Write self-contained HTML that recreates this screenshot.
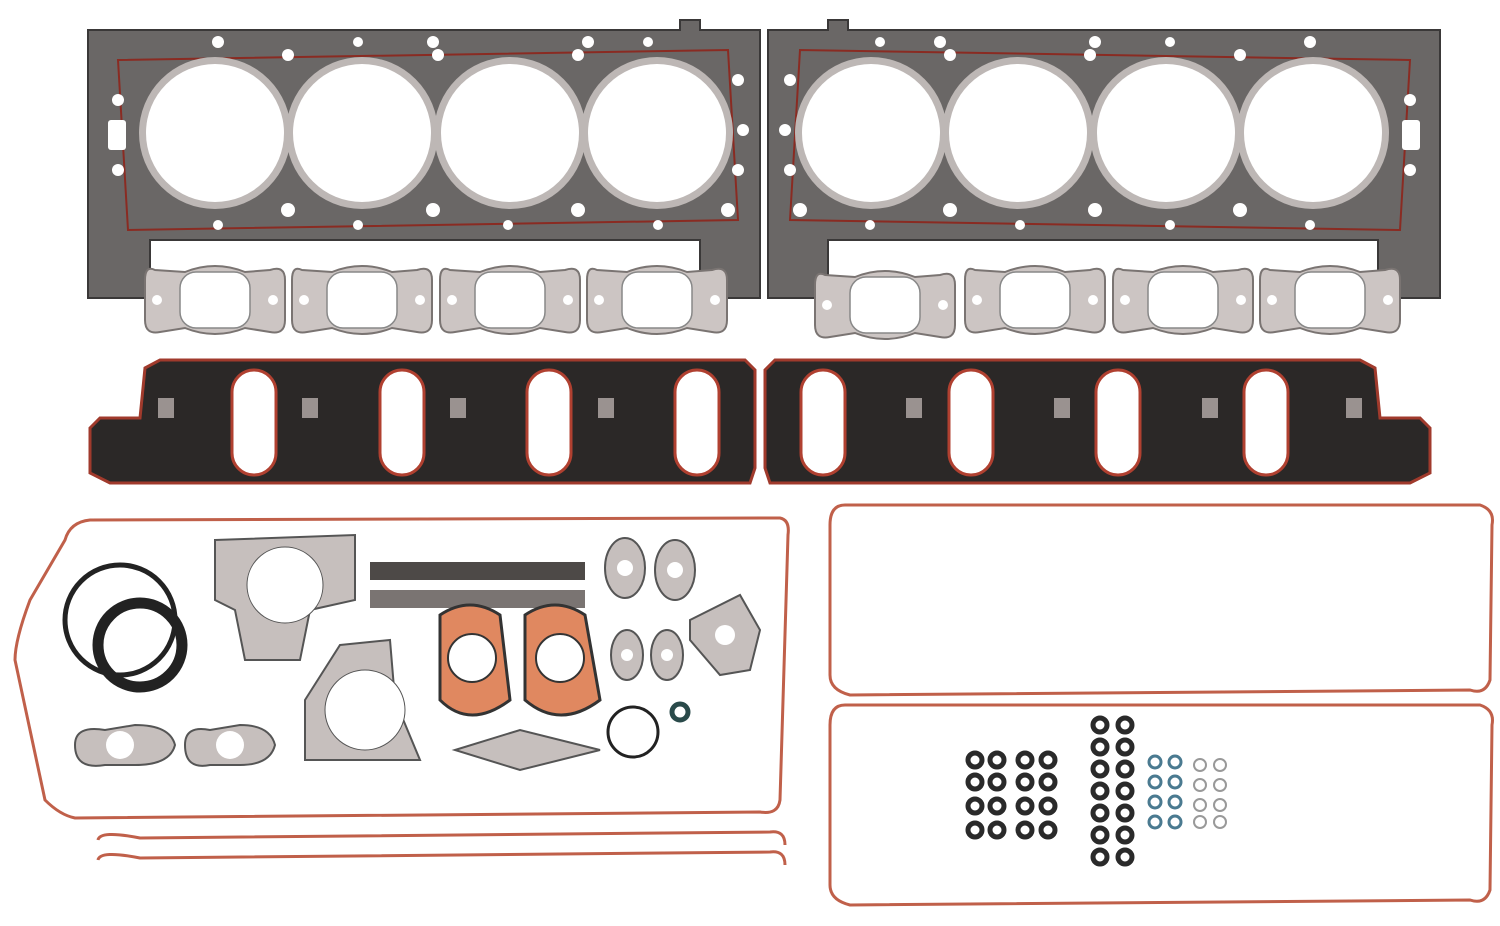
<!DOCTYPE html>
<html><head><meta charset="utf-8"><style>
html,body{margin:0;padding:0;background:#fff;width:1500px;height:926px;overflow:hidden}
</style></head><body>
<svg width="1500" height="926" viewBox="0 0 1500 926" xmlns="http://www.w3.org/2000/svg">
<defs>
<g id="head">
  <path d="M0,10 L592,10 L592,0 L612,0 L612,10 L672,10 L672,278 L612,278 L612,220 L62,220 L62,278 L0,278 Z" fill="#6a6766" stroke="#3a3838" stroke-width="2"/>
  <path d="M30,40 L640,30 L650,200 L40,210 Z" fill="none" stroke="#8a2b22" stroke-width="2"/>
  <g fill="#bdb7b5"><circle cx="127" cy="113" r="76"/><circle cx="274" cy="113" r="76"/><circle cx="422" cy="113" r="76"/><circle cx="569" cy="113" r="76"/></g>
  <g fill="#fff"><circle cx="127" cy="113" r="69"/><circle cx="274" cy="113" r="69"/><circle cx="422" cy="113" r="69"/><circle cx="569" cy="113" r="69"/></g>
  <g fill="#fff">
    <circle cx="130" cy="22" r="6"/><circle cx="270" cy="22" r="5"/><circle cx="345" cy="22" r="6"/><circle cx="500" cy="22" r="6"/><circle cx="560" cy="22" r="5"/>
    <circle cx="200" cy="35" r="6"/><circle cx="350" cy="35" r="6"/><circle cx="490" cy="35" r="6"/>
    <circle cx="200" cy="190" r="7"/><circle cx="345" cy="190" r="7"/><circle cx="490" cy="190" r="7"/><circle cx="640" cy="190" r="7"/>
    <circle cx="130" cy="205" r="5"/><circle cx="270" cy="205" r="5"/><circle cx="420" cy="205" r="5"/><circle cx="570" cy="205" r="5"/>
    <circle cx="30" cy="80" r="6"/><circle cx="30" cy="150" r="6"/><circle cx="650" cy="60" r="6"/><circle cx="655" cy="110" r="6"/><circle cx="650" cy="150" r="6"/>
    <rect x="20" y="100" width="18" height="30" rx="3"/>
  </g>
</g>
<g id="exh">
  <path d="M-60,-30 Q-70,-35 -70,-20 L-70,20 Q-70,35 -55,32 L-30,28 Q0,40 30,28 L55,32 Q70,35 70,20 L70,-20 Q70,-35 55,-30 L30,-28 Q0,-40 -30,-28 Z" fill="#ccc5c3" stroke="#7a7472" stroke-width="2"/>
  <rect x="-35" y="-28" width="70" height="56" rx="16" fill="#fff" stroke="#888" stroke-width="1.5"/>
  <circle cx="-58" cy="0" r="5" fill="#fff"/><circle cx="58" cy="0" r="5" fill="#fff"/>
</g>
<g id="intake">
  <path d="M0,70 L10,60 L50,60 L55,10 L70,2 L655,2 L665,12 L665,110 L660,125 L20,125 L0,115 Z" fill="#2b2827" stroke="#a03a2c" stroke-width="3"/>
  <g fill="#fff" stroke="#b04030" stroke-width="3">
    <rect x="142" y="12" width="44" height="105" rx="22"/><rect x="290" y="12" width="44" height="105" rx="22"/>
    <rect x="437" y="12" width="44" height="105" rx="22"/><rect x="585" y="12" width="44" height="105" rx="22"/>
  </g>
  <g fill="#9a9290"><rect x="68" y="40" width="16" height="20"/><rect x="212" y="40" width="16" height="20"/><rect x="360" y="40" width="16" height="20"/><rect x="508" y="40" width="16" height="20"/></g>
</g>
<g id="oring"><circle r="7" fill="none" stroke="#2a2a2a" stroke-width="5"/></g>
</defs>

<use href="#head" x="88" y="20"/>
<g transform="translate(1440,20) scale(-1,1)"><use href="#head"/></g>

<use href="#exh" x="215" y="300"/><use href="#exh" x="362" y="300"/><use href="#exh" x="510" y="300"/><use href="#exh" x="657" y="300"/>
<use href="#exh" x="885" y="305"/><use href="#exh" x="1035" y="300"/><use href="#exh" x="1183" y="300"/><use href="#exh" x="1330" y="300"/>

<use href="#intake" x="90" y="358"/>
<g transform="translate(1430,358) scale(-1,1)"><use href="#intake"/></g>

<path d="M90,520 L780,518 Q790,520 788,535 L780,800 Q778,815 760,812 L75,818 Q60,815 45,800 L15,660 Q15,640 30,600 L65,540 Q70,522 90,520 Z" fill="none" stroke="#c0604a" stroke-width="3"/>
<path d="M98,840 Q100,830 140,838 L770,832 Q785,830 785,845 M98,860 Q100,850 140,858 L770,852 Q785,850 785,865" fill="none" stroke="#c0604a" stroke-width="3"/>

<circle cx="120" cy="620" r="55" fill="none" stroke="#222" stroke-width="5"/>
<circle cx="140" cy="645" r="42" fill="none" stroke="#222" stroke-width="11"/>
<path d="M215,540 L355,535 L355,600 L310,610 L300,660 L245,660 L235,610 L215,600 Z" fill="#c6bfbd" stroke="#555" stroke-width="2"/>
<circle cx="285" cy="585" r="38" fill="#fff" stroke="#555"/>
<path d="M340,645 L390,640 L395,700 L420,760 L305,760 L305,700 Z" fill="#c6bfbd" stroke="#555" stroke-width="2"/>
<circle cx="365" cy="710" r="40" fill="#fff" stroke="#555"/>
<rect x="370" y="562" width="215" height="18" fill="#4d4947"/><rect x="370" y="590" width="215" height="18" fill="#7a7472"/>
<g fill="#e08860" stroke="#333" stroke-width="3">
  <path d="M440,615 Q470,595 500,615 L510,700 Q470,730 440,700 Z"/>
  <path d="M525,615 Q555,595 585,615 L600,700 Q560,730 525,700 Z"/>
</g>
<circle cx="472" cy="658" r="24" fill="#fff" stroke="#333" stroke-width="2"/>
<circle cx="560" cy="658" r="24" fill="#fff" stroke="#333" stroke-width="2"/>
<path d="M455,750 L520,730 L600,750 L520,770 Z" fill="#c6bfbd" stroke="#555" stroke-width="2"/>
<g fill="#c6bfbd" stroke="#555" stroke-width="2">
  <ellipse cx="625" cy="568" rx="20" ry="30"/><ellipse cx="675" cy="570" rx="20" ry="30"/>
  <ellipse cx="627" cy="655" rx="16" ry="25"/><ellipse cx="667" cy="655" rx="16" ry="25"/>
  <path d="M690,620 L740,595 L760,630 L750,670 L720,675 L690,640 Z"/>
  <path d="M75,745 Q75,725 105,730 L135,725 Q170,725 175,745 Q170,765 135,765 L105,765 Q75,770 75,745Z"/>
  <path d="M185,745 Q185,725 210,730 L240,725 Q270,725 275,745 Q270,765 240,765 L210,765 Q185,770 185,745Z"/>
</g>
<g fill="#fff"><circle cx="625" cy="568" r="8"/><circle cx="675" cy="570" r="8"/><circle cx="627" cy="655" r="6"/><circle cx="667" cy="655" r="6"/><circle cx="725" cy="635" r="10"/><circle cx="120" cy="745" r="14"/><circle cx="230" cy="745" r="14"/></g>
<circle cx="633" cy="732" r="25" fill="none" stroke="#222" stroke-width="3"/>
<circle cx="680" cy="712" r="8" fill="none" stroke="#2a4a4a" stroke-width="5"/>

<path d="M845,505 L1480,505 Q1495,510 1492,525 L1490,680 Q1485,695 1470,690 L850,695 Q830,690 830,675 L830,525 Q830,505 845,505 Z" fill="none" stroke="#c0604a" stroke-width="3"/>
<path d="M845,705 L1480,705 Q1495,710 1492,725 L1490,890 Q1485,905 1470,900 L850,905 Q830,900 830,885 L830,725 Q830,705 845,705 Z" fill="none" stroke="#c0604a" stroke-width="3"/>

<g>
  <g id="col4">
    <use href="#oring" x="975" y="760"/><use href="#oring" x="997" y="760"/><use href="#oring" x="1025" y="760"/><use href="#oring" x="1048" y="760"/>
  </g>
  <use href="#col4" y="22"/><use href="#col4" y="46"/><use href="#col4" y="70"/>
  <g id="col2"><use href="#oring" x="1100" y="725"/><use href="#oring" x="1125" y="725"/></g>
  <use href="#col2" y="22"/><use href="#col2" y="44"/><use href="#col2" y="66"/><use href="#col2" y="88"/><use href="#col2" y="110"/><use href="#col2" y="132"/>
  <g fill="none" stroke="#4a7a90" stroke-width="3">
    <circle cx="1155" cy="762" r="6"/><circle cx="1175" cy="762" r="6"/><circle cx="1155" cy="782" r="6"/><circle cx="1175" cy="782" r="6"/>
    <circle cx="1155" cy="802" r="6"/><circle cx="1175" cy="802" r="6"/><circle cx="1155" cy="822" r="6"/><circle cx="1175" cy="822" r="6"/>
  </g>
  <g fill="none" stroke="#999" stroke-width="2">
    <circle cx="1200" cy="765" r="6"/><circle cx="1220" cy="765" r="6"/><circle cx="1200" cy="785" r="6"/><circle cx="1220" cy="785" r="6"/>
    <circle cx="1200" cy="805" r="6"/><circle cx="1220" cy="805" r="6"/><circle cx="1200" cy="822" r="6"/><circle cx="1220" cy="822" r="6"/>
  </g>
</g>
</svg>
</body></html>
